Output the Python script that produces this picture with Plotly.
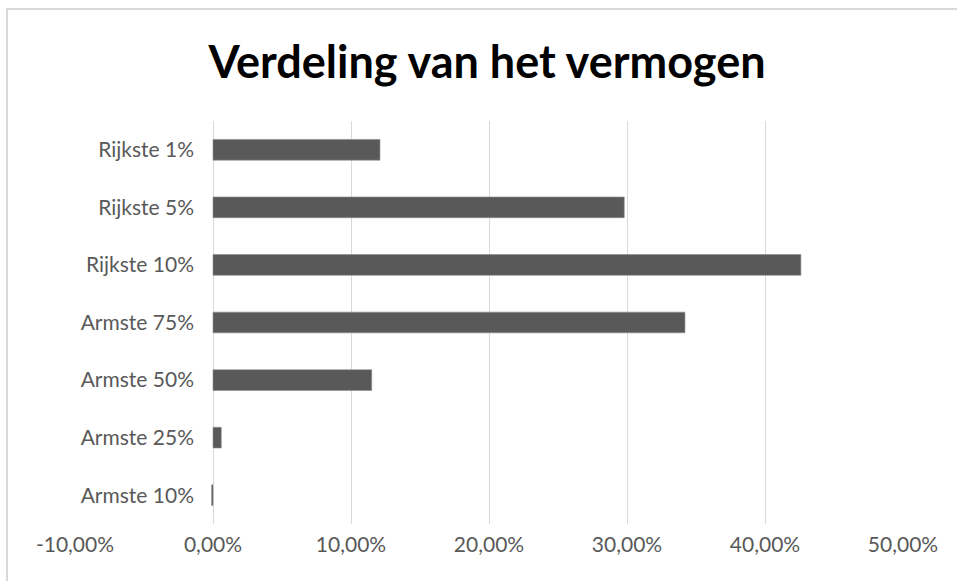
import plotly.graph_objects as go

categories = ["Rijkste 1%", "Rijkste 5%", "Rijkste 10%", "Armste 75%",
              "Armste 50%", "Armste 25%", "Armste 10%"]
values = [0.121, 0.298, 0.426, 0.342, 0.115, 0.006, -0.001]
tick_vals = [-0.10, 0.0, 0.10, 0.20, 0.30, 0.40, 0.50]
tick_text = ["-10,00%", "0,00%", "10,00%", "20,00%", "30,00%", "40,00%", "50,00%"]
title_text = "Verdeling van het vermogen"

W, H = 957, 581
L, R, T, B = 75, 903, 121, 524
pw, ph = R - L, B - T

def px_x(p):
    return (p - L) / pw

def px_y(p):
    return (B - p) / ph

FONT = "Lato"
TXT = "#595959"

fig = go.Figure()
fig.add_trace(go.Bar(
    y=categories, x=values, orientation="h",
    marker=dict(color="#595959", line=dict(color="#8c8c8c", width=0.6)),
    width=0.36,
))

zero_pos = (0 - tick_vals[0]) / (tick_vals[-1] - tick_vals[0])

fig.update_layout(
    width=W, height=H,
    margin=dict(l=L, r=W - R, t=T, b=H - B),
    paper_bgcolor="white", plot_bgcolor="white",
    showlegend=False,
    title=dict(text=title_text, x=487 / W, xanchor="center",
               y=1 - 62 / H, yanchor="middle",
               font=dict(family=FONT, size=45, color="black", weight="bold")),
    xaxis=dict(range=[tick_vals[0], tick_vals[-1]], tickvals=tick_vals, ticktext=tick_text,
               showgrid=True, gridcolor="#d9d9d9", gridwidth=1.3, zeroline=False,
               showline=False, ticks="", ticklabelstandoff=6,
               tickfont=dict(family=FONT, size=21, color=TXT)),
    yaxis=dict(categoryorder="array", categoryarray=categories[::-1],
               autorange=False, range=[-0.5, len(categories) - 0.5],
               anchor="free", position=zero_pos, showgrid=False, zeroline=False,
               showline=False, ticks="", ticklabelstandoff=19,
               tickfont=dict(family=FONT, size=21, color=TXT)),
    shapes=[
        dict(type="line", xref="paper", yref="paper",
             x0=px_x(6), x1=px_x(960), y0=px_y(9), y1=px_y(9),
             line=dict(color="#d9d9d9", width=2)),
        dict(type="line", xref="paper", yref="paper",
             x0=px_x(7), x1=px_x(7), y0=px_y(8), y1=px_y(600),
             line=dict(color="#d9d9d9", width=2)),
    ],
)

fig.write_html("out.html", config={"displayModeBar": False},
               post_script="document.body.style.margin='0px';")
